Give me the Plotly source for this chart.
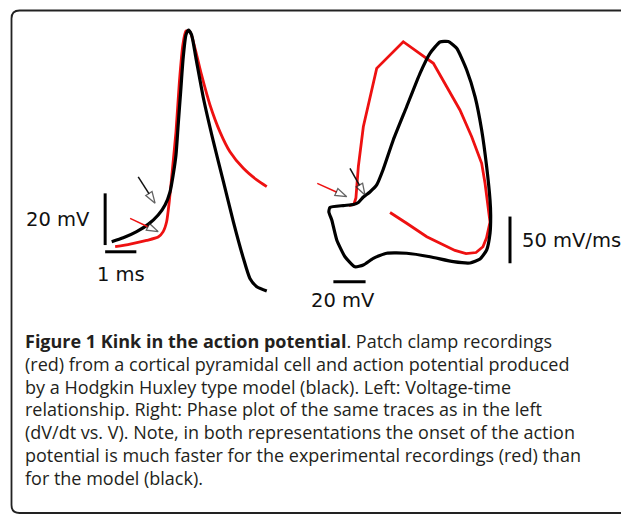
import plotly.graph_objects as go

# ---------------- data ----------------
# Left panel: membrane voltage (mV) vs time (ms)
t_model = [0.00, 0.37, 0.80, 1.17, 1.49, 1.71, 1.87, 1.97, 2.06, 2.13, 2.21, 2.29,
           2.38, 2.46, 2.56, 2.70, 2.94, 3.26, 3.58, 3.90, 4.22, 4.43, 4.65, 4.97]
v_model = [-60.0, -58.5, -56.1, -53.3, -49.7, -45.8, -40.7, -34.2, -26.5, -14.9, -2.0, 11.0,
           20.0, 21.9, 20.0, 11.0, -4.5, -21.3, -36.8, -52.3, -66.4, -74.2, -77.4, -79.1]

t_exp = [0.11, 0.59, 1.12, 1.49, 1.65, 1.76, 1.85, 1.95, 2.06, 2.17, 2.28,
         2.38, 2.51, 2.67, 2.88, 3.15, 3.47, 3.79, 4.22, 4.65, 4.97]
v_exp = [-61.9, -60.9, -59.5, -58.2, -56.1, -52.3, -43.9, -31.5, -17.5, 1.9, 16.1,
         21.5, 21.2, 14.8, 4.5, -7.1, -17.5, -25.2, -31.6, -36.1, -38.7]

# Right panel: phase plot, dV/dt (mV/ms) vs V (mV)
V_model = [-60.0, -51.7, -45.5, -42.4, -39.3, -35.2, -31.0, -27.1, -20.7, -12.4, -4.1, 2.1,
           8.3, 13.5, 18.7, 24.9, 30.1, 34.2, 37.3, 39.4, 39.8, 39.4, 37.3, 33.2, 27.0,
           16.6, 2.1, -12.4, -24.8, -33.1, -39.3, -44.5, -50.7, -55.8, -58.9, -60.7, -60.0]
dvdt_model = [0.0, 2.1, 3.2, 5.4, 11.2, 16.6, 24.1, 40.1, 72.3, 107.9, 143.7, 165.1,
              177.2, 177.7, 170.4, 147.2, 118.6, 83.0, 43.7, 8.0, -8.0, -27.6, -45.5, -55.1, -59.4,
              -58.0, -52.7, -49.0, -49.0, -54.4, -61.6, -63.4, -52.7, -34.8, -13.4, -4.8, 0.0]

V_exp = [-48.2, -45.1, -43.9, -43.2, -42.4, -39.3, -35.2, -31.0, -14.5, 4.2, 12.5, 20.7,
         28.0, 34.2, 36.3, 38.1, 39.4, 37.2, 35.0, 30.7, 24.5, 17.6, 8.3, 0.1, -12.4, -22.7]
dvdt_exp = [2.1, 3.7, 10.2, 24.1, 43.7, 86.5, 118.6, 149.0, 177.5, 154.4, 129.3, 104.4,
            75.8, 47.3, 25.9, 4.8, -15.5, -32.7, -42.0, -48.2, -49.3, -46.0, -38.0, -31.3, -16.9, -5.4]

# Onset arrows (start, tip) in each panel's data units
left_arrow_model = ([0.85, 1.39], [-34.9, -45.1])
left_arrow_exp = ([0.59, 1.49], [-51.0, -56.1])
right_arrow_model = ([-47.6, -38.3], [42.0, 13.4])
right_arrow_exp = ([-67.9, -49.6], [25.9, 11.6])

# Scale bars
left_bar_time_ms = 1
left_bar_volt_mV = 20
right_bar_volt_mV = 20
right_bar_rate = 50

caption_lines = [
    "<b>Figure 1 Kink in the action potential</b>. Patch clamp recordings",
    "(red) from a cortical pyramidal cell and action potential produced",
    "by a Hodgkin Huxley type model (black). Left: Voltage-time",
    "relationship. Right: Phase plot of the same traces as in the left",
    "(dV/dt vs. V). Note, in both representations the onset of the action",
    "potential is much faster for the experimental recordings (red) than",
    "for the model (black).",
]

# ---------------- layout geometry ----------------
W, H = 621, 514
RED = "#ee1111"
BLACK = "#000000"


def xr(lo_px, hi_px, anchor_px, anchor_val, ppu):
    return [anchor_val + (lo_px - anchor_px) / ppu, anchor_val + (hi_px - anchor_px) / ppu]


def yr(anchor_px, anchor_val, ppu):
    return [anchor_val + (anchor_px - H) / ppu, anchor_val + anchor_px / ppu]


fig = go.Figure()

# left panel traces
fig.add_trace(go.Scatter(x=t_exp, y=v_exp, mode="lines", line=dict(color=RED, width=2.8, shape="spline", smoothing=0.6),
                         xaxis="x", yaxis="y", hoverinfo="skip"))
fig.add_trace(go.Scatter(x=t_model, y=v_model, mode="lines", line=dict(color=BLACK, width=3.2, shape="spline", smoothing=0.6),
                         xaxis="x", yaxis="y", hoverinfo="skip"))
# right panel traces
fig.add_trace(go.Scatter(x=V_exp, y=dvdt_exp, mode="lines", line=dict(color=RED, width=2.8),
                         xaxis="x2", yaxis="y2", hoverinfo="skip"))
fig.add_trace(go.Scatter(x=V_model, y=dvdt_model, mode="lines", line=dict(color=BLACK, width=3.2, shape="spline", smoothing=0.5),
                         xaxis="x2", yaxis="y2", hoverinfo="skip"))


def add_arrow(xs, ys, color, xa, ya):
    fig.add_trace(go.Scatter(
        x=xs, y=ys, mode="lines+markers", xaxis=xa, yaxis=ya, hoverinfo="skip",
        line=dict(color=color, width=1.5),
        marker=dict(symbol="arrow", size=[0, 12], angleref="previous", color="white",
                    line=dict(color="#222222", width=1.3)),
    ))


add_arrow(*left_arrow_model, "#111111", "x", "y")
add_arrow(*left_arrow_exp, RED, "x", "y")
add_arrow(*right_arrow_model, "#111111", "x2", "y2")
add_arrow(*right_arrow_exp, RED, "x2", "y2")

# scale bars
lb_x, lb_y = -0.21, -61.3
fig.add_shape(type="line", xref="x", yref="y", x0=lb_x, x1=lb_x, y0=lb_y, y1=lb_y + left_bar_volt_mV,
              line=dict(color=BLACK, width=3))
fig.add_shape(type="line", xref="x", yref="y", x0=lb_x, x1=lb_x + left_bar_time_ms, y0=-63.9, y1=-63.9,
              line=dict(color=BLACK, width=3))
fig.add_shape(type="line", xref="x2", yref="y2", x0=-57.9, x1=-57.9 + right_bar_volt_mV, y0=-79.4, y1=-79.4,
              line=dict(color=BLACK, width=3))
fig.add_shape(type="line", xref="x2", yref="y2", x0=51.8, x1=51.8, y0=-59.7, y1=-59.7 + right_bar_rate,
              line=dict(color=BLACK, width=3))

lab_font = dict(family="DejaVu Sans", size=19.5, color="#111111")
fig.add_annotation(xref="x", yref="y", x=-0.62, y=-51.6, text=f"{left_bar_volt_mV} mV", showarrow=False,
                   xanchor="right", yanchor="middle", font=lab_font)
fig.add_annotation(xref="x", yref="y", x=0.31, y=-72.5, text=f"{left_bar_time_ms} ms", showarrow=False,
                   xanchor="center", yanchor="middle", font=lab_font)
fig.add_annotation(xref="x2", yref="y2", x=-52.0, y=-99.5, text=f"{right_bar_volt_mV} mV", showarrow=False,
                   xanchor="center", yanchor="middle", font=lab_font)
fig.add_annotation(xref="x2", yref="y2", x=58.3, y=-35.5, text=f"{right_bar_rate} mV/ms", showarrow=False,
                   xanchor="left", yanchor="middle", font=lab_font)

# caption
for i, line in enumerate(caption_lines):
    yc = 341 + i * 22.8
    fig.add_annotation(xref="paper", yref="paper", x=23 / W, y=1 - yc / H, text=line, showarrow=False,
                       xanchor="left", yanchor="middle",
                       font=dict(family="Open Sans", size=18, color="#231f20"))

# rounded frame (open to the right)
def px(xp, yp):
    return f"{xp / W:.5f},{1 - yp / H:.5f}"

frame = (f"M{px(640, 10.5)} L{px(19.5, 10.5)} Q{px(11.5, 10.5)} {px(11.5, 18.5)} "
         f"L{px(11.5, 505)} Q{px(11.5, 513)} {px(19.5, 513)} L{px(640, 513)}")
fig.add_shape(type="path", xref="paper", yref="paper", path=frame, line=dict(color="#222222", width=1.8))

axis_common = dict(visible=False, showgrid=False, zeroline=False, fixedrange=True)
fig.update_layout(
    width=W, height=H, margin=dict(l=0, r=0, t=0, b=0),
    paper_bgcolor="white", plot_bgcolor="white", showlegend=False,
    xaxis=dict(domain=[0, 0.5], range=xr(0, W * 0.5, 111.7, 0.0, 31.2), **axis_common),
    yaxis=dict(domain=[0, 1], range=yr(241.7, -60.0, 2.585), **axis_common),
    xaxis2=dict(domain=[0.5, 1], range=xr(W * 0.5, W, 330.0, -60.0, 1.61), anchor="y2", **axis_common),
    yaxis2=dict(domain=[0, 1], range=yr(207.5, 0.0, 0.934), anchor="x2", **axis_common),
)

fig.write_html("out.html", config={"displayModeBar": False, "staticPlot": True},
               post_script="document.body.style.margin='0px';document.body.style.overflow='hidden';")
